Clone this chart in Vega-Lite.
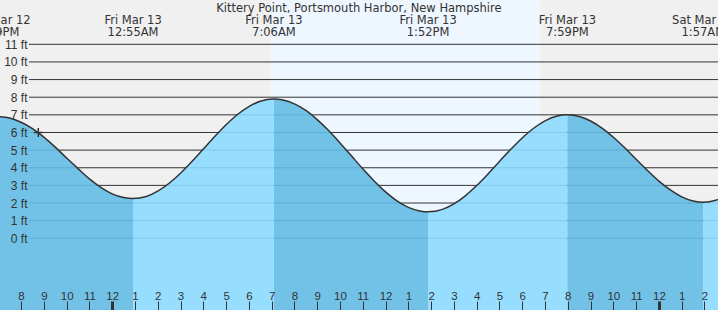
{
  "$schema": "https://vega.github.io/schema/vega-lite/v6.json",
  "width": 718,
  "height": 310,
  "autosize": {"type": "none"},
  "padding": 0,
  "background": "#f0f0f0",
  "datasets": {
    "periods": [
      {"start": -4.925, "end": 6.958, "kind": "night"},
      {"start": 6.958, "end": 18.78, "kind": "day"},
      {"start": 18.78, "end": 26.6, "kind": "night"}
    ],
    "grid": [
      {"ft": 0}, {"ft": 1}, {"ft": 2}, {"ft": 3}, {"ft": 4}, {"ft": 5},
      {"ft": 6}, {"ft": 7}, {"ft": 8}, {"ft": 9}, {"ft": 10}, {"ft": 11}
    ],
    "tide": [
      {"h": -5.0, "ft": 6.90, "seg": [0]},
      {"h": -4.5, "ft": 6.82, "seg": [0]},
      {"h": -4.0, "ft": 6.58, "seg": [0]},
      {"h": -3.5, "ft": 6.22, "seg": [0]},
      {"h": -3.0, "ft": 5.74, "seg": [0]},
      {"h": -2.5, "ft": 5.17, "seg": [0]},
      {"h": -2.0, "ft": 4.55, "seg": [0]},
      {"h": -1.5, "ft": 3.95, "seg": [0]},
      {"h": -1.0, "ft": 3.37, "seg": [0]},
      {"h": -0.5, "ft": 2.89, "seg": [0]},
      {"h": 0.0, "ft": 2.52, "seg": [0]},
      {"h": 0.5, "ft": 2.31, "seg": [0]},
      {"h": 0.917, "ft": 2.25, "seg": [0, 1]},
      {"h": 1.5, "ft": 2.37, "seg": [1]},
      {"h": 2.0, "ft": 2.67, "seg": [1]},
      {"h": 2.5, "ft": 3.12, "seg": [1]},
      {"h": 3.0, "ft": 3.69, "seg": [1]},
      {"h": 3.5, "ft": 4.35, "seg": [1]},
      {"h": 4.0, "ft": 5.06, "seg": [1]},
      {"h": 4.5, "ft": 5.77, "seg": [1]},
      {"h": 5.0, "ft": 6.44, "seg": [1]},
      {"h": 5.5, "ft": 7.02, "seg": [1]},
      {"h": 6.0, "ft": 7.47, "seg": [1]},
      {"h": 6.5, "ft": 7.77, "seg": [1]},
      {"h": 7.1, "ft": 7.9, "seg": [1, 2]},
      {"h": 7.5, "ft": 7.84, "seg": [2]},
      {"h": 8.0, "ft": 7.62, "seg": [2]},
      {"h": 8.5, "ft": 7.25, "seg": [2]},
      {"h": 9.0, "ft": 6.73, "seg": [2]},
      {"h": 9.5, "ft": 6.11, "seg": [2]},
      {"h": 10.0, "ft": 5.41, "seg": [2]},
      {"h": 10.5, "ft": 4.68, "seg": [2]},
      {"h": 11.0, "ft": 3.94, "seg": [2]},
      {"h": 11.5, "ft": 3.25, "seg": [2]},
      {"h": 12.0, "ft": 2.63, "seg": [2]},
      {"h": 12.5, "ft": 2.12, "seg": [2]},
      {"h": 13.0, "ft": 1.75, "seg": [2]},
      {"h": 13.5, "ft": 1.55, "seg": [2]},
      {"h": 13.867, "ft": 1.5, "seg": [2, 3]},
      {"h": 14.5, "ft": 1.64, "seg": [3]},
      {"h": 15.0, "ft": 1.95, "seg": [3]},
      {"h": 15.5, "ft": 2.41, "seg": [3]},
      {"h": 16.0, "ft": 2.99, "seg": [3]},
      {"h": 16.5, "ft": 3.65, "seg": [3]},
      {"h": 17.0, "ft": 4.36, "seg": [3]},
      {"h": 17.5, "ft": 5.05, "seg": [3]},
      {"h": 18.0, "ft": 5.69, "seg": [3]},
      {"h": 18.5, "ft": 6.24, "seg": [3]},
      {"h": 19.0, "ft": 6.66, "seg": [3]},
      {"h": 19.5, "ft": 6.92, "seg": [3]},
      {"h": 19.983, "ft": 7.0, "seg": [3, 4]},
      {"h": 20.5, "ft": 6.91, "seg": [4]},
      {"h": 21.0, "ft": 6.65, "seg": [4]},
      {"h": 21.5, "ft": 6.25, "seg": [4]},
      {"h": 22.0, "ft": 5.73, "seg": [4]},
      {"h": 22.5, "ft": 5.13, "seg": [4]},
      {"h": 23.0, "ft": 4.48, "seg": [4]},
      {"h": 23.5, "ft": 3.84, "seg": [4]},
      {"h": 24.0, "ft": 3.24, "seg": [4]},
      {"h": 24.5, "ft": 2.74, "seg": [4]},
      {"h": 25.0, "ft": 2.35, "seg": [4]},
      {"h": 25.5, "ft": 2.12, "seg": [4]},
      {"h": 25.95, "ft": 2.05, "seg": [4, 5]},
      {"h": 26.5, "ft": 2.16, "seg": [5]},
      {"h": 27.0, "ft": 2.43, "seg": [5]}
    ],
    "events": [
      {"h": -5.01, "label": "Thu Mar 12\n6:59PM"},
      {"h": 0.917, "label": "Fri Mar 13\n12:55AM"},
      {"h": 7.1, "label": "Fri Mar 13\n7:06AM"},
      {"h": 13.867, "label": "Fri Mar 13\n1:52PM"},
      {"h": 19.983, "label": "Fri Mar 13\n7:59PM"},
      {"h": 25.95, "label": "Sat Mar 14\n1:57AM"}
    ],
    "now": [
      {"h": -3.244, "ft": 6.0}
    ],
    "heading": [
      {"name": "Kittery Point, Portsmouth Harbor, New Hampshire"}
    ]
  },
  "layer": [
    {
      "data": {"name": "periods"},
      "mark": {"type": "rect"},
      "encoding": {
        "x": {
          "field": "start", "type": "quantitative",
          "scale": {"domain": [-4.925, 26.594], "nice": false, "zero": false},
          "axis": {
            "orient": "top",
            "offset": -310,
            "tickCount": 31,
            "tickMinStep": 1,
            "labelExpr": "(((datum.value % 12) + 12) % 12) == 0 ? '12' : '' + (((datum.value % 12) + 12) % 12)",
            "tickSize": 9,
            "tickColor": "#333333",
            "tickWidth": {"condition": {"test": "datum.value % 24 == 0", "value": 3}, "value": 1},
            "labelPadding": 0,
            "labelFontSize": 11.5,
            "labelFont": "Liberation Sans",
            "labelColor": "#333333",
            "labelOverlap": false,
            "labelFlush": false,
            "labelBound": false,
            "domain": false,
            "grid": false,
            "title": null,
            "zindex": 1
          }
        },
        "x2": {"field": "end"},
        "color": {
          "field": "kind", "type": "nominal",
          "scale": {"domain": ["night", "day"], "range": ["#f0f0f0", "#eef6ff"]},
          "legend": null
        }
      }
    },
    {
      "data": {"name": "grid"},
      "mark": {"type": "rule", "color": "#333333", "strokeWidth": 1},
      "encoding": {
        "y": {
          "field": "ft", "type": "quantitative",
          "scale": {"domain": [-4.066, 13.512], "nice": false, "zero": false},
          "axis": {
            "orient": "left",
            "offset": -29,
            "tickCount": 18,
            "tickMinStep": 1,
            "labelExpr": "datum.value >= 0 && datum.value <= 11 ? datum.value + ' ft' : ''",
            "ticks": false,
            "tickSize": 0,
            "domain": false,
            "grid": false,
            "labelPadding": 2,
            "labelFontSize": 12,
            "labelFont": "Liberation Sans",
            "labelColor": "#333333",
            "labelOverlap": false,
            "labelFlush": false,
            "labelBound": false,
            "title": null,
            "zindex": 1
          }
        },
        "x": {"datum": -3.652, "type": "quantitative"},
        "x2": {"datum": 26.7}
      }
    },
    {
      "data": {"name": "tide"},
      "transform": [{"flatten": ["seg"]}],
      "mark": {"type": "area", "interpolate": "monotone", "opacity": 0.9},
      "encoding": {
        "x": {"field": "h", "type": "quantitative"},
        "y": {"field": "ft", "type": "quantitative"},
        "y2": {"datum": -4.3},
        "color": {
          "field": "seg", "type": "nominal",
          "scale": {"domain": [0, 1, 2, 3, 4, 5], "range": ["#64bce5", "#8cdaff", "#64bce5", "#8cdaff", "#64bce5", "#8cdaff"]},
          "legend": null
        }
      }
    },
    {
      "data": {"name": "tide"},
      "mark": {"type": "line", "interpolate": "monotone", "color": "#333333", "strokeWidth": 1.5},
      "encoding": {
        "x": {"field": "h", "type": "quantitative"},
        "y": {"field": "ft", "type": "quantitative"}
      }
    },
    {
      "data": {"name": "now"},
      "mark": {"type": "point", "shape": "M-1,0L1,0M0,-1L0,1", "size": 80, "filled": false, "stroke": "#333333", "strokeWidth": 1.5, "opacity": 1},
      "encoding": {
        "x": {"field": "h", "type": "quantitative"},
        "y": {"field": "ft", "type": "quantitative"}
      }
    },
    {
      "data": {"name": "events"},
      "mark": {"type": "text", "lineBreak": "\n", "lineHeight": 12, "baseline": "alphabetic", "align": "center", "fontSize": 11.5, "font": "DejaVu Sans", "color": "#333333"},
      "encoding": {
        "x": {"field": "h", "type": "quantitative"},
        "y": {"datum": 12.151, "type": "quantitative"},
        "text": {"field": "label"}
      }
    },
    {
      "data": {"name": "heading"},
      "mark": {"type": "text", "baseline": "alphabetic", "align": "center", "fontSize": 11.5, "font": "DejaVu Sans", "color": "#333333"},
      "encoding": {
        "x": {"datum": 10.83, "type": "quantitative"},
        "y": {"datum": 12.82, "type": "quantitative"},
        "text": {"field": "name"}
      }
    }
  ],
  "resolve": {"scale": {"color": "independent"}},
  "config": {
    "font": "Liberation Sans",
    "view": {"stroke": null},
    "axis": {"labelOverlap": false}
  }
}
